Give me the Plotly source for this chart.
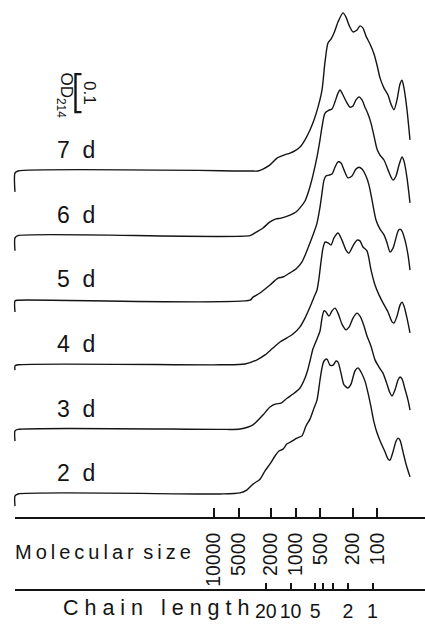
import math
import plotly.graph_objects as go

# Elution position (mL) and absorbance above each trace's own baseline (OD214)
ve_2d = [1.5, 1.5, 1.8, 22.0, 24.0, 24.7, 25.3, 26.0, 26.5, 27.0, 27.5, 27.9, 28.3, 28.7, 29.2, 29.7, 30.2, 30.6,
         31.0, 31.4, 31.7, 32.0, 32.2, 32.4, 32.7, 33.0, 33.3, 33.6, 33.8, 34.1, 34.4, 34.8, 35.1, 35.5, 35.8, 36.1,
         36.5, 36.8, 37.1, 37.4, 37.7, 38.1, 38.5, 38.8, 39.0, 39.3, 39.6, 39.8, 40.0, 40.3, 40.6, 41.0]
od_2d = [-0.032, -0.005, 0.0, 0.0, 0.003, 0.011, 0.026, 0.039, 0.061, 0.079, 0.100, 0.113, 0.118, 0.132, 0.139,
         0.147, 0.153, 0.179, 0.197, 0.226, 0.247, 0.300, 0.332, 0.350, 0.355, 0.339, 0.339, 0.350, 0.347, 0.318,
         0.287, 0.279, 0.289, 0.324, 0.332, 0.321, 0.297, 0.266, 0.229, 0.189, 0.161, 0.134, 0.111, 0.092, 0.089,
         0.111, 0.139, 0.147, 0.142, 0.111, 0.079, 0.045]

ve_3d = [1.5, 1.5, 1.8, 22.0, 24.0, 25.3, 26.3, 27.0, 27.6, 28.1, 28.7, 29.3, 30.0, 30.5, 30.8, 31.0, 31.3, 31.7,
         32.0, 32.2, 32.4, 32.6, 32.9, 33.2, 33.5, 33.8, 34.2, 34.6, 34.9, 35.3, 35.7, 36.0, 36.3, 36.7, 37.1, 37.5,
         37.9, 38.3, 38.7, 39.0, 39.2, 39.5, 39.8, 40.0, 40.2, 40.5, 40.8, 41.0]
od_3d = [-0.031, -0.004, 0.0, 0.0, 0.001, 0.012, 0.038, 0.059, 0.067, 0.069, 0.082, 0.093, 0.109, 0.135, 0.159,
         0.180, 0.212, 0.238, 0.259, 0.293, 0.312, 0.309, 0.298, 0.312, 0.319, 0.306, 0.277, 0.262, 0.269, 0.293,
         0.306, 0.298, 0.280, 0.246, 0.219, 0.183, 0.164, 0.148, 0.119, 0.096, 0.088, 0.104, 0.130, 0.138, 0.133,
         0.106, 0.077, 0.051]

ve_4d = [1.5, 1.5, 1.8, 22.0, 24.5, 25.7, 26.5, 27.2, 28.0, 28.7, 29.3, 30.0, 30.5, 31.0, 31.4, 31.7, 31.9, 32.1,
         32.3, 32.5, 32.8, 33.1, 33.4, 33.8, 34.2, 34.6, 34.9, 35.3, 35.7, 36.0, 36.3, 36.7, 37.1, 37.5, 37.9, 38.3,
         38.8, 39.2, 39.4, 39.7, 40.0, 40.2, 40.4, 40.7, 41.0]
od_4d = [-0.014, -0.003, 0.0, 0.0, 0.002, 0.013, 0.026, 0.042, 0.060, 0.071, 0.081, 0.100, 0.123, 0.152, 0.178,
         0.197, 0.228, 0.271, 0.307, 0.323, 0.321, 0.315, 0.334, 0.347, 0.328, 0.302, 0.294, 0.313, 0.328, 0.326,
         0.310, 0.300, 0.250, 0.210, 0.184, 0.163, 0.139, 0.113, 0.110, 0.128, 0.157, 0.165, 0.155, 0.123, 0.084]

ve_5d = [1.5, 1.5, 1.8, 25.0, 25.3, 26.0, 27.0, 27.8, 28.3, 29.0, 29.6, 30.2, 30.6, 31.0, 31.4, 31.7, 32.0, 32.2,
         32.4, 32.6, 32.9, 33.2, 33.5, 33.8, 34.1, 34.4, 34.8, 35.2, 35.6, 35.9, 36.2, 36.6, 36.9, 37.2, 37.6, 38.0,
         38.4, 38.7, 39.0, 39.3, 39.6, 39.8, 40.0, 40.2, 40.5, 40.8, 41.0]
od_5d = [-0.031, -0.002, 0.0, 0.0, 0.008, 0.019, 0.040, 0.058, 0.061, 0.072, 0.082, 0.101, 0.124, 0.151, 0.179,
         0.203, 0.245, 0.282, 0.316, 0.327, 0.329, 0.332, 0.350, 0.364, 0.361, 0.343, 0.322, 0.327, 0.345, 0.350,
         0.345, 0.327, 0.303, 0.264, 0.211, 0.187, 0.172, 0.151, 0.127, 0.137, 0.164, 0.182, 0.187, 0.182, 0.158,
         0.119, 0.079]

ve_6d = [1.5, 1.5, 1.8, 25.0, 25.5, 26.3, 27.0, 27.6, 28.1, 29.0, 29.6, 30.0, 30.5, 30.9, 31.3, 31.7, 32.0, 32.2,
         32.5, 32.9, 33.2, 33.5, 33.8, 34.0, 34.3, 34.7, 35.0, 35.3, 35.6, 35.9, 36.2, 36.5, 36.8, 37.1, 37.4, 37.7,
         38.0, 38.4, 38.8, 39.1, 39.3, 39.6, 39.9, 40.2, 40.4, 40.7, 41.0]
od_6d = [-0.040, -0.006, 0.0, 0.0, 0.007, 0.020, 0.036, 0.044, 0.046, 0.054, 0.062, 0.073, 0.091, 0.120, 0.159,
         0.207, 0.252, 0.286, 0.322, 0.330, 0.333, 0.352, 0.375, 0.383, 0.370, 0.349, 0.338, 0.341, 0.357, 0.365,
         0.357, 0.338, 0.320, 0.296, 0.262, 0.228, 0.212, 0.199, 0.173, 0.154, 0.146, 0.157, 0.186, 0.207, 0.196,
         0.152, 0.086]

ve_7d = [1.5, 1.5, 1.8, 25.0, 25.8, 26.3, 27.0, 27.7, 28.4, 29.0, 29.6, 30.0, 30.5, 31.0, 31.4, 31.8, 32.2, 32.5,
         32.8, 33.1, 33.4, 33.8, 34.3, 34.6, 34.9, 35.3, 35.7, 36.0, 36.3, 36.6, 37.0, 37.4, 37.7, 38.0, 38.4, 38.8,
         39.1, 39.4, 39.7, 40.0, 40.2, 40.4, 40.7, 41.0]
od_7d = [-0.055, -0.005, 0.0, 0.0, 0.0, 0.005, 0.016, 0.034, 0.042, 0.047, 0.055, 0.063, 0.082, 0.108, 0.134,
         0.168, 0.213, 0.287, 0.337, 0.347, 0.363, 0.392, 0.416, 0.405, 0.384, 0.366, 0.371, 0.382, 0.376, 0.355,
         0.334, 0.308, 0.279, 0.245, 0.218, 0.200, 0.176, 0.161, 0.187, 0.229, 0.239, 0.218, 0.161, 0.082]

day_labels = ["2 d", "3 d", "4 d", "5 d", "6 d", "7 d"]

# Calibration markers
mol_sizes = [10000, 5000, 2000, 1000, 500, 200, 100]
chain_lengths = [20, 10, 5, 4, 3, 2, 1]
chain_labels = ["20", "10", "5", "", "", "2", "1"]
scale_bar_od = 0.1

SANS = "Liberation Sans, Arial, Helvetica, sans-serif"
INK = "#141414"
CLEAR = "rgba(0,0,0,0)"
THIN = "\u2009"
NBSP = "\u00a0"

W, H = 425, 627
STEP = 0.17          # vertical offset between stacked traces (OD)
Y_RANGE = [-0.35, 1.30]
X_RANGE = [0.0, 42.5]


def paper_y(od):
    return (od - Y_RANGE[0]) / (Y_RANGE[1] - Y_RANGE[0])


# elution position of calibration standards (log-linear calibration)
mol_pos = [29.57 - 8.165 * (math.log10(m) - 3.0) for m in mol_sizes]
chain_pos = [37.25 - 8.2 * math.log10(c) for c in chain_lengths]

series = [(ve_2d, od_2d), (ve_3d, od_3d), (ve_4d, od_4d),
          (ve_5d, od_5d), (ve_6d, od_6d), (ve_7d, od_7d)]

fig = go.Figure()

# empty traces so the calibration axes get their own subplots
fig.add_trace(go.Scatter(x=[], y=[], xaxis="x2", yaxis="y", showlegend=False, hoverinfo="skip"))
fig.add_trace(go.Scatter(x=[], y=[], xaxis="x3", yaxis="y", showlegend=False, hoverinfo="skip"))

for i, (ve, od) in enumerate(series):
    off = i * STEP
    fig.add_trace(go.Scatter(
        x=ve, y=[v + off for v in od], mode="lines",
        line=dict(color=INK, width=1.4, shape="spline", smoothing=0.7),
        hoverinfo="skip", showlegend=False))
    fig.add_annotation(x=5.5, y=off + 0.055, text=day_labels[i].replace(" ", NBSP * 2),
                       showarrow=False, xanchor="left", yanchor="middle",
                       font=dict(family=SANS, size=23, color=INK))

# OD scale bar
bar_bottom = 1.005
fig.add_trace(go.Scatter(
    x=[8.15, 7.55, 7.55, 8.15],
    y=[bar_bottom + scale_bar_od, bar_bottom + scale_bar_od, bar_bottom, bar_bottom],
    mode="lines", line=dict(color=INK, width=2.4), hoverinfo="skip", showlegend=False))
fig.add_annotation(x=9.0, y=bar_bottom + scale_bar_od / 2, text=f"{scale_bar_od:g}", textangle=90,
                   showarrow=False, font=dict(family=SANS, size=17, color=INK))
fig.add_annotation(x=6.45, y=bar_bottom + 0.045, text="OD<sub>214</sub>", textangle=90,
                   showarrow=False, font=dict(family=SANS, size=17, color=INK))

axis_start = 1.5
cal_domain = [axis_start / X_RANGE[1], 1.0]
cal_common = dict(domain=cal_domain, range=[axis_start, X_RANGE[1]], anchor="free",
                  showline=True, linecolor=INK, linewidth=1.6, ticks="inside",
                  tickcolor=INK, tickwidth=1.5, tickmode="array", showgrid=False,
                  zeroline=False, fixedrange=True)

mol_axis_od = (494 - 518) / 380.0
chain_axis_od = (494 - 590) / 380.0

fig.update_layout(
    width=W, height=H,
    margin=dict(l=0, r=0, t=0, b=0),
    paper_bgcolor="white", plot_bgcolor=CLEAR,
    showlegend=False,
    xaxis=dict(domain=[0, 1], range=X_RANGE, visible=False, fixedrange=True),
    yaxis=dict(domain=[0, 1], range=Y_RANGE, visible=False, fixedrange=True),
    xaxis2=dict(position=paper_y(mol_axis_od), ticklen=9,
                tickvals=[axis_start + 0.02] + mol_pos,
                ticktext=[""] + [str(m) for m in mol_sizes],
                tickangle=-90, ticklabelstandoff=6,
                tickfont=dict(family=SANS, size=19.5, color=INK), **cal_common),
    xaxis3=dict(position=paper_y(chain_axis_od), ticklen=6,
                tickvals=[axis_start + 0.02] + chain_pos,
                ticktext=[""] + chain_labels,
                tickangle=0, ticklabelstandoff=4,
                tickfont=dict(family=SANS, size=19.5, color=INK), **cal_common),
)

fig.add_annotation(x=1.3, y=(494 - 552) / 380.0, xanchor="left", yanchor="middle", showarrow=False,
                   text=THIN.join("Molecular") + NBSP + THIN + THIN.join("size"),
                   font=dict(family=SANS, size=20, color=INK))
fig.add_annotation(x=6.1, y=(494 - 608) / 380.0, xanchor="left", yanchor="middle", showarrow=False,
                   text=NBSP.join("Chain") + NBSP * 3 + NBSP.join("length"),
                   font=dict(family=SANS, size=21.5, color=INK))

fig.write_html("out.html")
